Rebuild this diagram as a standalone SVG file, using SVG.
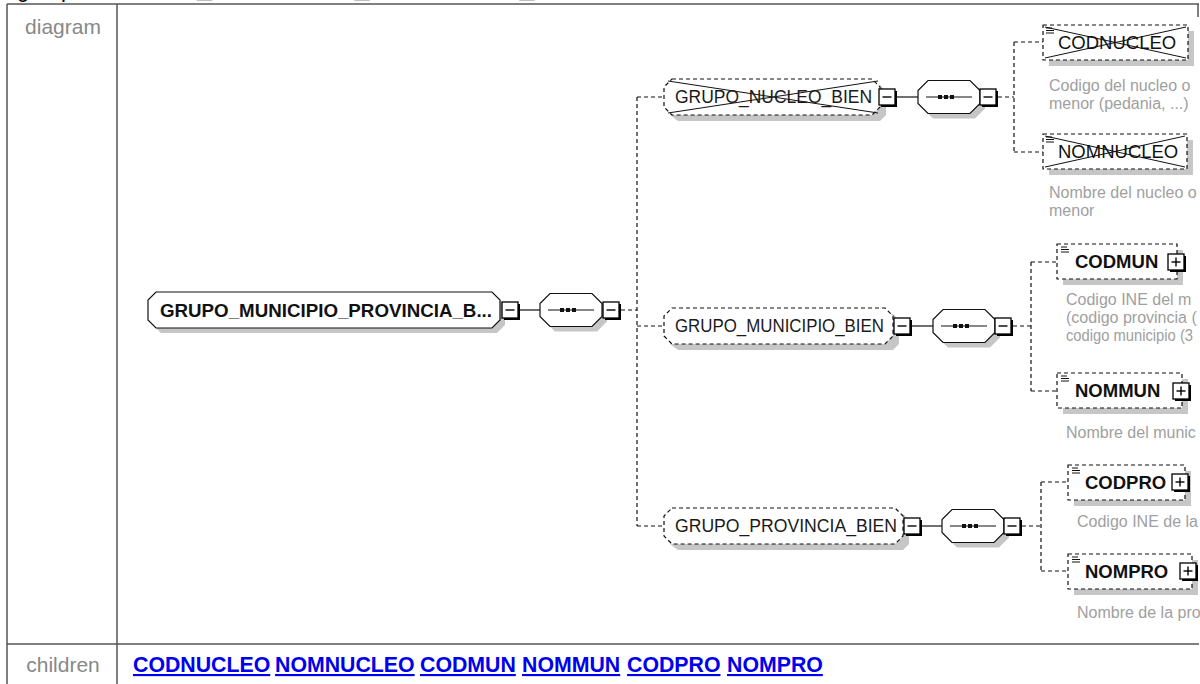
<svg xmlns="http://www.w3.org/2000/svg" width="1200" height="684" viewBox="0 0 1200 684">
<style>
.f{font-family:"Liberation Sans",Arial,sans-serif}
.tbl{stroke:#555;stroke-width:1.5;fill:none}
.lbl{font-size:21px;fill:#888}
.lnk{font-size:21.3px;font-weight:bold;fill:#0000ee;text-decoration:underline}
.shd{fill:#c6c6c6;stroke:none}
.sol{fill:#fff;stroke:#111;stroke-width:1.2}
.dsh{fill:#fff;stroke:#111;stroke-width:1.2;stroke-dasharray:4 3}
.con{fill:none;stroke:#111;stroke-width:1.2;stroke-dasharray:4 3}
.lin{fill:none;stroke:#111;stroke-width:1.2}
.xl{fill:none;stroke:#111;stroke-width:1}
.gname{font-size:17.5px;fill:#1a1a1a}
.ename{font-size:18.5px;fill:#111;font-weight:bold}
.xname{font-size:18.5px;fill:#111}
.desc{font-size:16px;fill:#a0a0a0}
</style>
<defs>
<g id="box">
<rect x="2" y="2" width="16" height="16" fill="#000"/>
<rect x="0" y="0" width="16" height="16" fill="#fff" stroke="#000" stroke-width="1.3"/>
<line x1="3.5" y1="8" x2="12.5" y2="8" stroke="#000" stroke-width="1.4"/>
</g>
<g id="plus">
<use href="#box"/>
<line x1="8" y1="3.5" x2="8" y2="12.5" stroke="#000" stroke-width="1.4"/>
</g>
<g id="seq">
<polygon class="shd" points="15,-11.5 57,-11.5 67,-1.5 67,11.5 57,21.5 15,21.5 5,11.5 5,-1.5"/>
<polygon class="sol" points="10,-16.5 52,-16.5 62,-6.5 62,6.5 52,16.5 10,16.5 0,6.5 0,-6.5"/>
<line x1="8" y1="0" x2="54" y2="0" stroke="#111" stroke-width="1.2"/>
<rect x="20" y="-2" width="4" height="4" fill="#111"/>
<rect x="26" y="-2" width="4" height="4" fill="#111"/>
<rect x="32" y="-2" width="4" height="4" fill="#111"/>
</g>
<g id="icon">
<line x1="0" y1="0" x2="6" y2="0" stroke="#111" stroke-width="1"/>
<line x1="0" y1="2.5" x2="8" y2="2.5" stroke="#111" stroke-width="1"/>
<line x1="0" y1="5" x2="8" y2="5" stroke="#111" stroke-width="1"/>
</g>
</defs>

<g id="heading" class="f">
<text x="17" y="-3" font-size="22" fill="#000">group</text>
<text x="98" y="-3" font-size="27" font-weight="bold" fill="#000">GRUPO_MUNICIPIO_PROVINCIA_BIEN</text>
</g>

<g id="table">
<line class="tbl" x1="7" y1="4" x2="1199" y2="4"/>
<line class="tbl" x1="7" y1="4" x2="7" y2="684"/>
<line class="tbl" x1="117" y1="4" x2="117" y2="684"/>
<line class="tbl" x1="1198" y1="4" x2="1198" y2="17"/>
<line class="tbl" x1="7" y1="644" x2="1199" y2="644"/>
<text class="f lbl" x="63" y="34" text-anchor="middle">diagram</text>
<text class="f lbl" x="63" y="672" text-anchor="middle">children</text>
<text class="f lnk" x="133" y="672">CODNUCLEO</text>
<text class="f lnk" x="275" y="672">NOMNUCLEO</text>
<text class="f lnk" x="420" y="672">CODMUN</text>
<text class="f lnk" x="522" y="672">NOMMUN</text>
<text class="f lnk" x="627" y="672">CODPRO</text>
<text class="f lnk" x="727" y="672">NOMPRO</text>
</g>

<g id="connectors">
<line class="lin" x1="520" y1="310" x2="540" y2="310"/>
<path class="con" d="M621,310H637M637,97V526M637,97H664M637,326H664M637,526H664"/>
<line class="lin" x1="897" y1="97" x2="918" y2="97"/>
<path class="con" d="M998,97H1014M1014,42V152M1014,42H1043M1014,152H1043"/>
<line class="lin" x1="912" y1="326" x2="933" y2="326"/>
<path class="con" d="M1013,326H1031M1031,262V391M1031,262H1057M1031,391H1057"/>
<line class="lin" x1="922" y1="526" x2="942" y2="526"/>
<path class="con" d="M1022,526H1041M1041,482V571M1041,482H1068M1041,571H1068"/>
</g>

<g id="n-root" class="f">
<polygon class="shd" points="161,297 497,297 505,305 505,325 497,333 161,333 153,325 153,305"/>
<polygon class="sol" points="156,292 492,292 500,300 500,320 492,328 156,328 148,320 148,300"/>
<text x="160" y="317" font-size="19" font-weight="bold" fill="#111" textLength="332" lengthAdjust="spacingAndGlyphs">GRUPO_MUNICIPIO_PROVINCIA_B...</text>
<use href="#box" x="502" y="302"/>
<use href="#seq" x="540" y="310"/>
<use href="#box" x="603" y="302"/>
</g>

<g id="n-grupo-nucleo" class="f">
<polygon class="shd" points="678,85 880,85 886,91 886,115 880,121 678,121 670,115 670,91"/>
<polygon class="dsh" points="672,79 872,79 880,87 880,107 872,115 672,115 664,107 664,87"/>
<line class="xl" x1="668" y1="81" x2="878" y2="113"/>
<line class="xl" x1="668" y1="113" x2="878" y2="81"/>
<text class="gname" x="675" y="103" textLength="197" lengthAdjust="spacingAndGlyphs">GRUPO_NUCLEO_BIEN</text>
<use href="#box" x="879" y="89"/>
<use href="#seq" x="918" y="97"/>
<use href="#box" x="980" y="89"/>
</g>

<g id="n-grupo-municipio" class="f">
<polygon class="shd" points="678,314 893,314 899,320 899,344 893,350 678,350 670,344 670,320"/>
<polygon class="dsh" points="672,308 885,308 893,316 893,336 885,344 672,344 664,336 664,316"/>
<text class="gname" x="675" y="332" textLength="209" lengthAdjust="spacingAndGlyphs">GRUPO_MUNICIPIO_BIEN</text>
<use href="#box" x="894" y="318"/>
<use href="#seq" x="933" y="326"/>
<use href="#box" x="995" y="318"/>
</g>

<g id="n-grupo-provincia" class="f">
<polygon class="shd" points="678,514 903,514 909,520 909,544 903,550 678,550 670,544 670,520"/>
<polygon class="dsh" points="672,508 895,508 903,516 903,536 895,544 672,544 664,536 664,516"/>
<text class="gname" x="675" y="532" textLength="222" lengthAdjust="spacingAndGlyphs">GRUPO_PROVINCIA_BIEN</text>
<use href="#box" x="904" y="518"/>
<use href="#seq" x="942" y="526"/>
<use href="#box" x="1004" y="518"/>
</g>

<g id="n-codnucleo" class="f">
<rect class="shd" x="1049" y="31" width="145" height="35"/>
<rect class="dsh" x="1043" y="25" width="145" height="35"/>
<line class="xl" x1="1045" y1="27" x2="1186" y2="58"/>
<line class="xl" x1="1045" y1="58" x2="1186" y2="27"/>
<use href="#icon" x="1046" y="28"/>
<text class="xname" x="1058" y="49">CODNUCLEO</text>
<text class="desc" x="1049" y="91">Codigo del nucleo o</text>
<text class="desc" x="1049" y="109">menor (pedania, ...)</text>
</g>

<g id="n-nomnucleo" class="f">
<rect class="shd" x="1049" y="140" width="144" height="35"/>
<rect class="dsh" x="1043" y="134" width="144" height="35"/>
<line class="xl" x1="1045" y1="136" x2="1185" y2="167"/>
<line class="xl" x1="1045" y1="167" x2="1185" y2="136"/>
<use href="#icon" x="1046" y="137"/>
<text class="xname" x="1058" y="158">NOMNUCLEO</text>
<text class="desc" x="1049" y="198">Nombre del nucleo o</text>
<text class="desc" x="1049" y="216">menor</text>
</g>

<g id="n-codmun" class="f">
<rect class="shd" x="1063" y="250" width="120" height="35"/>
<rect class="dsh" x="1057" y="244" width="120" height="35"/>
<use href="#icon" x="1061" y="247"/>
<text class="ename" x="1075" y="268">CODMUN</text>
<use href="#plus" x="1168" y="254"/>
<text class="desc" x="1066" y="305">Codigo INE del m</text>
<text class="desc" x="1066" y="323">(codigo provincia (</text>
<text class="desc" x="1066" y="341" textLength="127" lengthAdjust="spacingAndGlyphs">codigo municipio (3</text>
</g>

<g id="n-nommun" class="f">
<rect class="shd" x="1063" y="379" width="125" height="35"/>
<rect class="dsh" x="1057" y="373" width="125" height="35"/>
<use href="#icon" x="1061" y="376"/>
<text class="ename" x="1075" y="397">NOMMUN</text>
<use href="#plus" x="1173" y="383"/>
<text class="desc" x="1066" y="438">Nombre del munic</text>
</g>

<g id="n-codpro" class="f">
<rect class="shd" x="1074" y="471" width="117" height="35"/>
<rect class="dsh" x="1068" y="465" width="117" height="35"/>
<use href="#icon" x="1072" y="468"/>
<text class="ename" x="1085" y="489">CODPRO</text>
<use href="#plus" x="1172" y="474"/>
<text class="desc" x="1077" y="527">Codigo INE de la</text>
</g>

<g id="n-nompro" class="f">
<rect class="shd" x="1074" y="560" width="124" height="35"/>
<rect class="dsh" x="1068" y="554" width="124" height="35"/>
<use href="#icon" x="1072" y="557"/>
<text class="ename" x="1085" y="578">NOMPRO</text>
<use href="#plus" x="1180" y="563"/>
<text class="desc" x="1077" y="618">Nombre de la pro</text>
</g>
</svg>
